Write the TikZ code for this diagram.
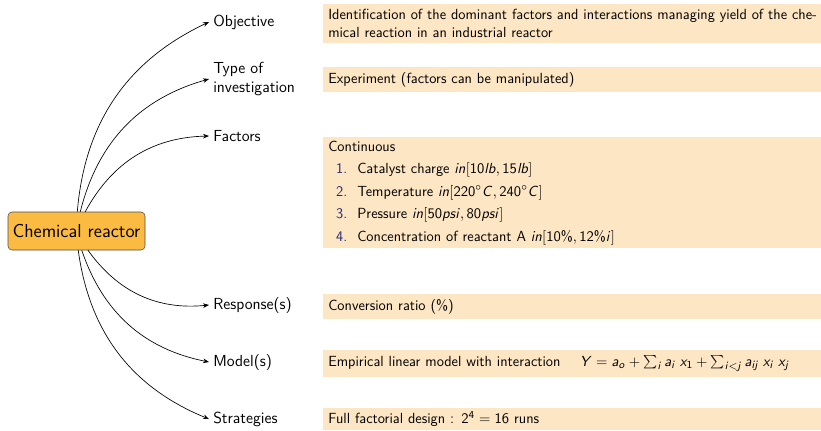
\documentclass[tikz,border=0pt]{standalone}
\usetikzlibrary{arrows.meta}
\DeclareMathAlphabet{\mathsi}{OT1}{cmss}{m}{sl}
\DeclareMathAlphabet{\mathsu}{OT1}{cmss}{m}{n}
\definecolor{reactorc}{HTML}{FBBA42}
\definecolor{boxc}{HTML}{FDE6C4}
\definecolor{numc}{rgb}{0.16,0.16,0.45}
\newcommand{\nm}[1]{\makebox[14.25pt][r]{\color{numc}#1.}\hspace{7.5pt}}
\begin{document}
\begin{tikzpicture}[x=0.75pt,y=-0.75pt,
  font=\sffamily\fontsize{11}{13.6}\selectfont,
  lbl/.style={anchor=west, inner sep=3pt, align=left, font=\sffamily\fontsize{12}{14}\selectfont},
  infobox/.style={anchor=north west, fill=boxc, minimum width=373.5pt, text width=366pt, inner xsep=3.75pt, inner ysep=0pt, align=left},
  arr/.style={-{Stealth[length=4.5pt,width=3.5pt]}, line width=0.5pt},
  reactorbox/.style={fill=reactorc, draw=black!70, rounded corners=3pt, minimum width=102.75pt, minimum height=28.5pt, inner sep=0pt, font=\sffamily\fontsize{14}{16}\selectfont}]
\useasboundingbox (0,0) rectangle (821,430);
\node[reactorbox] (reactor) at (76.5,231) {Chemical reactor};
\node[lbl] (obj) at (209,22) {Objective};
\node[lbl] (typ) at (209,79) {Type of\\investigation};
\node[lbl] (fac) at (209,136) {Factors};
\node[lbl] (res) at (209,305) {Response(s)};
\node[lbl] (mod) at (209,362) {Model(s)};
\node[lbl] (str) at (209,419) {Strategies};
\draw[arr] (reactor) to[bend left=30] (obj.west);
\draw[arr] (reactor) to[bend left=30] (typ.west);
\draw[arr] (reactor) to[bend left=30] (fac.west);
\draw[arr] (reactor) to[bend right=30] (res.west);
\draw[arr] (reactor) to[bend right=30] (mod.west);
\draw[arr] (reactor) to[bend right=30] (str.west);
\node[infobox, minimum height=29.25pt] (bobj) at (323,4) {\hbox to 366pt{Identification of the dominant factors and interactions managing yield of the che-}\\mical reaction in an industrial reactor};
\node[infobox, minimum height=18.75pt] (btyp) at (323,67) {Experiment (factors can be manipulated)};
\node[infobox, minimum height=83.25pt] (bfac) at (323,137) {Continuous\\[3.3pt]
\nm{1}Catalyst charge $\mathsi{in}[\mathsu{10}\mathsi{lb},\mathsu{15}\mathsi{lb}]$\\[3.3pt]
\nm{2}Temperature $\mathsi{in}[\mathsu{220}^\circ \mathsi{C},\mathsu{240}^\circ \mathsi{C}]$\\[3.3pt]
\nm{3}Pressure $\mathsi{in}[\mathsu{50}\mathsi{psi},\mathsu{80}\mathsi{psi}]$\\[3.3pt]
\nm{4}Concentration of reactant A $\mathsi{in}[\mathsu{10}\mbox{\%},\mathsu{12}\mbox{\%}\mathsi{i}]$};
\node[infobox, minimum height=18.75pt] (bres) at (323,294) {Conversion ratio (\%)};
\node[infobox, minimum height=20.25pt] (bmod) at (323,350) {Empirical linear model with interaction\hspace{14.5pt}$\mathsi{Y}=\mathsi{a}_{\mathsi{o}}+\sum_{\mathsi{i}}\mathsi{a}_{\mathsi{i}}\;\mathsi{x}_{\mathsu{1}}+\sum_{\mathsi{i}<\mathsi{j}}\mathsi{a}_{\mathsi{ij}}\;\mathsi{x}_{\mathsi{i}}\;\mathsi{x}_{\mathsi{j}}$};
\node[infobox, minimum height=16.5pt] (bstr) at (323,408) {Full factorial design : $\mathsu{2}^{\mathsu{4}}=\mathsu{16}$ runs};
\end{tikzpicture}
\end{document}
